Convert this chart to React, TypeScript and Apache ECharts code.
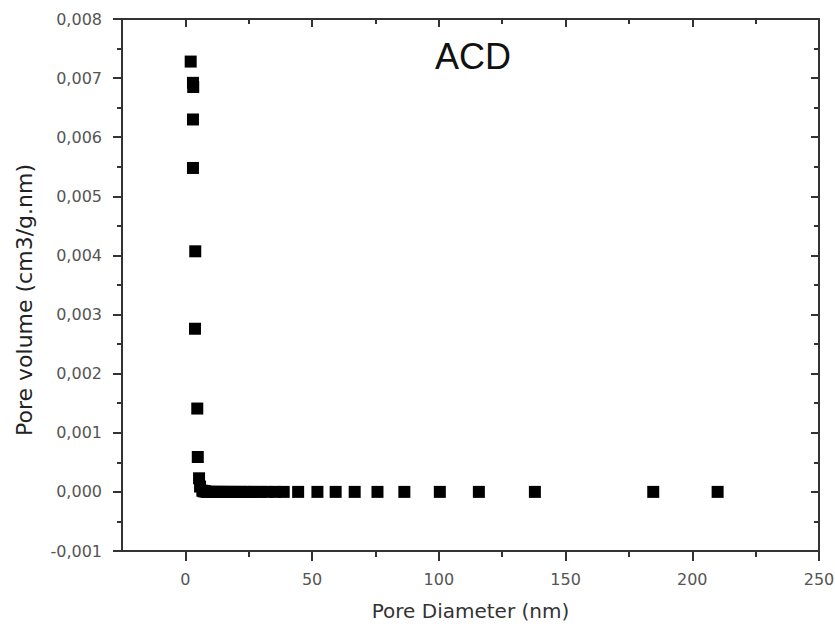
import React, { useEffect, useRef } from "react";
import * as echarts from "echarts";

// Pore diameter (nm) and pore volume (cm3/g.nm)
const poreDiameter = [
  2.1, 3.0, 3.1, 3.0, 3.0, 3.9, 3.8, 4.7, 4.9, 5.4, 5.8,
  6.7, 7.2, 7.8, 8.4, 9.1, 9.8, 10.6, 11.5, 12.4, 13.4, 14.5, 15.7, 17.0,
  18.4, 19.9, 21.5, 23.3, 25.2, 27.3, 29.6, 32.3, 35.4, 38.8,
  44.5, 52.1, 59.3, 66.8, 75.8, 86.4, 100.4, 115.8, 137.9, 184.6, 210.0,
];
const poreVolume = [
  0.00728, 0.00692, 0.00685, 0.0063, 0.00548, 0.00407, 0.00276, 0.00141, 0.00059, 0.00023, 0.00009,
  0.00002, 0.00001, 0.00001, 0.0, 0.0, 0.0, 0.0, 0.0, 0.0, 0.0, 0.0, 0.0, 0.0,
  0.0, 0.0, 0.0, 0.0, 0.0, 0.0, 0.0, 0.0, 0.0, 0.0,
  0.0, 0.0, 0.0, 0.0, 0.0, 0.0, 0.0, 0.0, 0.0, 0.0, 0.0,
];

const xMajorTicks = [0, 50, 100, 150, 200, 250];
const xMinorTicks = [25, 75, 125, 175, 225];
const xMin = -25;
const xMax = 250;
const yMin = -0.001;
const yMax = 0.008;
const yStep = 0.001;

const titleText = "ACD";
const xName = "Pore Diameter (nm)";
const yName = "Pore volume (cm3/g.nm)";

export default function App() {
  const ref = useRef<HTMLDivElement>(null);
  useEffect(() => {
    if (!ref.current) return;
    const chart = echarts.init(ref.current, undefined, { renderer: "svg" });
    const axisColor = "#333";
    const labelFont = "DejaVu Sans";
    const gridBox = { left: 122, right: 16, top: 19, bottom: 80, containLabel: false, outerBoundsMode: "none" };
    const data = poreDiameter.map((x, i) => [x, poreVolume[i]]);
    const option: any = {
      animation: false,
      backgroundColor: "#fff",
      grid: [gridBox, gridBox],
      xAxis: [
        {
          type: "value", gridIndex: 0, position: "bottom", min: xMin, max: xMax,
          axisLine: { show: true, onZero: false, lineStyle: { color: axisColor, width: 2 } },
          axisTick: { show: true, inside: false, length: 10, customValues: xMajorTicks, lineStyle: { color: axisColor, width: 2 } },
          axisLabel: {
            show: true, customValues: xMajorTicks, margin: 20, color: "#555", fontSize: 16, fontFamily: labelFont,
            formatter: (v: number) => (v < 0 ? "" : String(v)),
          },
          splitLine: { show: false },
          name: xName, nameLocation: "middle", nameGap: 50,
          nameTextStyle: { fontSize: 20, fontFamily: labelFont, color: "#333" },
        },
        {
          type: "value", gridIndex: 0, position: "top", min: xMin, max: xMax,
          axisLine: { show: true, onZero: false, lineStyle: { color: axisColor, width: 2 } },
          axisTick: { show: true, inside: true, length: 8, customValues: xMajorTicks, lineStyle: { color: axisColor, width: 2 } },
          axisLabel: { show: false },
          splitLine: { show: false },
        },
        {
          type: "value", gridIndex: 1, position: "bottom", min: xMin, max: xMax,
          axisLine: { show: false, onZero: false },
          axisTick: { show: true, inside: false, length: 6, customValues: xMinorTicks, lineStyle: { color: axisColor, width: 2 } },
          axisLabel: { show: false },
          splitLine: { show: false },
        },
        {
          type: "value", gridIndex: 1, position: "top", min: xMin, max: xMax,
          axisLine: { show: false, onZero: false },
          axisTick: { show: true, inside: true, length: 5, customValues: xMinorTicks, lineStyle: { color: axisColor, width: 2 } },
          axisLabel: { show: false },
          splitLine: { show: false },
        },
      ],
      yAxis: [
        {
          type: "value", gridIndex: 0, position: "left", min: yMin, max: yMax, interval: yStep,
          axisLine: { show: true, onZero: false, lineStyle: { color: axisColor, width: 2 } },
          axisTick: { show: true, inside: false, length: 9, lineStyle: { color: axisColor, width: 2 } },
          minorTick: { show: true, splitNumber: 2, length: 5, lineStyle: { color: axisColor, width: 2 } },
          axisLabel: {
            margin: 20, color: "#555", fontSize: 16, fontFamily: labelFont,
            formatter: (v: number) => v.toFixed(3).replace(".", ",").replace("-0,000", "0,000"),
          },
          splitLine: { show: false },
          minorSplitLine: { show: false },
        },
        {
          type: "value", gridIndex: 0, position: "right", min: yMin, max: yMax, interval: yStep,
          axisLine: { show: true, onZero: false, lineStyle: { color: axisColor, width: 2 } },
          axisTick: { show: true, inside: true, length: 8, lineStyle: { color: axisColor, width: 2 } },
          minorTick: { show: true, splitNumber: 2, length: 5, lineStyle: { color: axisColor, width: 2 } },
          axisLabel: { show: false },
          splitLine: { show: false },
          minorSplitLine: { show: false },
        },
        {
          type: "value", gridIndex: 1, min: yMin, max: yMax, show: false,
        },
      ],
      graphic: [
        {
          type: "text", left: 475 - 40, top: 38,
          style: { text: titleText, fontSize: 36, fontFamily: "Liberation Sans", fill: "#111" },
        },
        {
          type: "text", x: 24, y: 300, rotation: Math.PI / 2,
          style: {
            text: yName, fontSize: 22, fontFamily: labelFont, fill: "#222",
            align: "center", verticalAlign: "middle",
          },
        },
      ],
      series: [
        {
          type: "scatter", xAxisIndex: 0, yAxisIndex: 0,
          symbol: "rect", symbolSize: 12,
          itemStyle: { color: "#000", opacity: 1 },
          data,
        },
      ],
    };
    chart.setOption(option);
    return () => chart.dispose();
  }, []);
  return (
    <div
      ref={ref}
      style={{ position: "absolute", left: 0, top: 0, width: 835, height: 631 }}
    />
  );
}
